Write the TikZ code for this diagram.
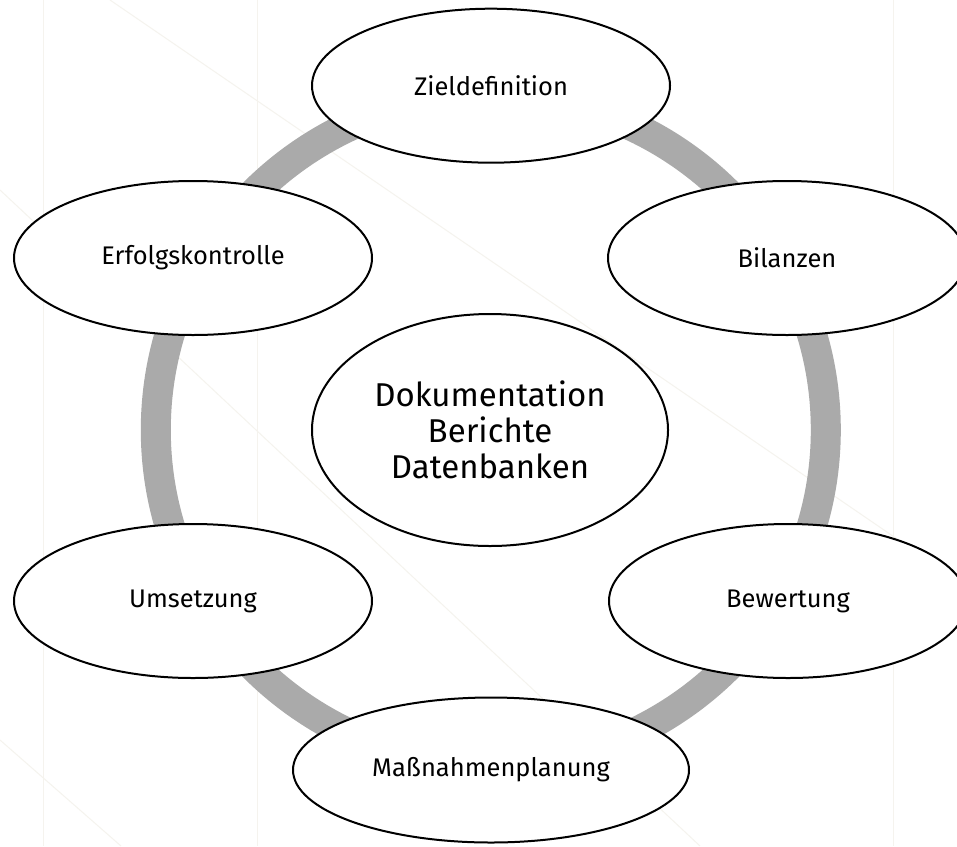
\documentclass[tikz,border=0pt]{standalone}
\usepackage{fontspec}
\setmainfont{Fira Sans}
\usetikzlibrary{shapes.geometric}
\definecolor{ringgray}{RGB}{170,170,170}
\definecolor{faint}{RGB}{245,243,238}
\begin{document}
\begin{tikzpicture}[x=1pt,y=-1pt,
  bub/.style={ellipse, draw=black, line width=2pt, fill=white,
    minimum width=358pt, minimum height=154pt, inner sep=0pt,
    font=\fontsize{25.5}{30}\selectfont},
  bgline/.style={draw=faint, line width=1pt}
]
\useasboundingbox (0,0) rectangle (957,846);
\clip (0,0) rectangle (957,846);
\fill[white] (0,0) rectangle (957,846);
% faint background pattern
\draw[bgline] (43,0) -- (43,846);
\draw[bgline] (257,0) -- (257,846);
\draw[bgline] (893,0) -- (893,846);
\draw[bgline] (110,0) -- (957,580);
\draw[bgline] (0,190) -- (700,846);
\draw[bgline] (0,740) -- (121,846);
% ring
\draw[line width=30pt, ringgray] (490.8,430) circle (335pt);
% nodes
\node[bub] (ziel) at (491,85.7) {Zieldefinition};
\node[bub] (erfolg) at (193,258) {Erfolgskontrolle};
\node[bub] (bilanz) at (787,258) {Bilanzen};
\node[bub] (umsetz) at (193,601) {Umsetzung};
\node[bub] (bewert) at (788,601) {Bewertung};
\node[bub, minimum width=396pt, minimum height=145pt] (mass) at (491,770) {Maßnahmenplanung};
\node[bub, minimum width=356pt, minimum height=232pt, align=center,
  font=\fontsize{33}{36}\selectfont] (doku) at (490,430) {Dokumentation\\Berichte\\Datenbanken};
\end{tikzpicture}
\end{document}
